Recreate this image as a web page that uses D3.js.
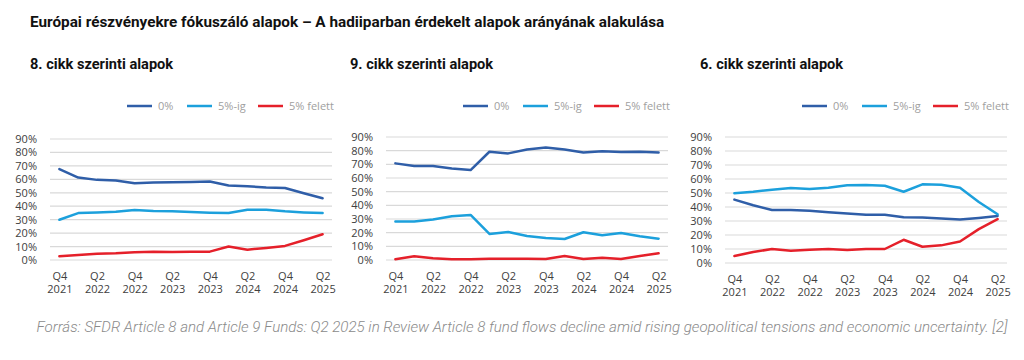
<!DOCTYPE html>
<html><head><meta charset="utf-8">
<script src="https://cdn.jsdelivr.net/npm/d3@7"></script>
<style>
body{margin:0;background:#fff;}
svg{display:block;}
</style></head>
<body>
<svg id="c" width="1024" height="360"></svg>
<script>
// ---- data ----
const quarters = ["Q4 2021","Q1 2022","Q2 2022","Q3 2022","Q4 2022","Q1 2023","Q2 2023","Q3 2023","Q4 2023","Q1 2024","Q2 2024","Q3 2024","Q4 2024","Q1 2025","Q2 2025"];
const tickQuarters = ["Q4 2021","Q2 2022","Q4 2022","Q2 2023","Q4 2023","Q2 2024","Q4 2024","Q2 2025"];
const yTicks = [0,0.1,0.2,0.3,0.4,0.5,0.6,0.7,0.8,0.9];
const seriesNames = ["0%","5%-ig","5% felett"];
const panelTitles = ["8. cikk szerinti alapok","9. cikk szerinti alapok","6. cikk szerinti alapok"];

const art8_0   = [67.6,61.3,59.6,59.1,57.1,57.6,57.9,58.1,58.4,55.4,54.9,53.9,53.6,49.6,45.9];
const art8_5ig = [29.9,34.9,35.4,35.9,37.2,36.4,36.2,35.7,35.2,34.9,37.4,37.4,36.2,35.4,34.9];
const art8_5f  = [2.7,3.7,4.7,5.0,5.7,6.2,6.0,6.2,6.2,10.0,7.7,9.0,10.5,14.7,19.2];

const art9_0   = [70.7,68.7,68.7,67.0,65.8,79.2,78.0,80.9,82.4,80.9,78.7,79.5,79.0,79.2,78.7];
const art9_5ig = [28.1,28.1,29.6,32.0,33.0,19.1,20.5,17.6,16.1,15.4,20.3,18.1,19.8,17.4,15.6];
const art9_5f  = [0.5,2.7,1.2,0.5,0.5,1.0,1.0,1.0,0.7,2.9,0.7,1.7,0.7,2.9,4.9];

const art6_0   = [45.3,41.2,37.9,37.9,37.4,36.3,35.3,34.4,34.4,32.7,32.5,31.8,31.0,32.2,33.6];
const art6_5ig = [49.8,50.9,52.4,53.6,52.8,53.8,55.5,55.7,55.2,50.9,56.2,55.9,53.8,43.6,34.8];
const art6_5f  = [5.0,7.8,10.0,8.8,9.5,10.0,9.2,10.0,10.0,16.6,11.6,12.6,15.4,24.2,31.3];

const panelData = [[art8_0,art8_5ig,art8_5f],[art9_0,art9_5ig,art9_5f],[art6_0,art6_5ig,art6_5f]];

// ---- layout / style ----
const colors = ["#2F5EA8","#1CA0DC","#E5202A"];
const layout = [
  {gx0:50, gx1:332, y0:260, y90:139, tx:30},
  {gx0:386,gx1:668, y0:260, y90:137, tx:350},
  {gx0:725,gx1:1007,y0:263, y90:137, tx:700}
];
const font = "'Open Sans', 'Noto Sans', sans-serif";
const svg = d3.select("#c");

svg.append("text").attr("x",30).attr("y",27)
  .attr("font-family","Roboto, sans-serif").attr("font-weight","bold")
  .attr("font-size",15.3).attr("fill","#111")
  .text("Európai részvényekre fókuszáló alapok – A hadiiparban érdekelt alapok arányának alakulása");

svg.append("text").attr("x",522).attr("y",332).attr("text-anchor","middle")
  .attr("font-family","Roboto, sans-serif").attr("font-weight",300).attr("font-style","italic")
  .attr("font-size",15.1).attr("fill","#8a8a8a")
  .text("Forrás: SFDR Article 8 and Article 9 Funds: Q2 2025 in Review Article 8 fund flows decline amid rising geopolitical tensions and economic uncertainty. [2]");

layout.forEach((L,pi)=>{
  const g = svg.append("g");
  g.append("text").attr("x",L.tx).attr("y",69)
    .attr("font-family","Roboto, sans-serif").attr("font-weight","bold")
    .attr("font-size",14.6).attr("fill","#111").text(panelTitles[pi]);

  const x = d3.scalePoint().domain(quarters).range([L.gx0,L.gx1]).padding(0.5);
  const y = d3.scaleLinear().domain([0,0.9]).range([L.y0,L.y90]);

  // grid
  g.append("g").selectAll("line").data(yTicks).join("line")
    .attr("x1",L.gx0).attr("x2",L.gx1)
    .attr("y1",d=>y(d)).attr("y2",d=>y(d))
    .attr("stroke","#d9d9d9").attr("stroke-width",1.2);

  // y axis
  const ya = g.append("g").attr("transform",`translate(${L.gx0-13},0)`)
    .call(d3.axisLeft(y).tickValues(yTicks).tickFormat(d3.format(".0%")).tickSize(0).tickPadding(0));
  ya.select(".domain").remove();
  ya.selectAll("text").attr("font-family",font).attr("font-size",11).attr("fill","#404040");

  // x axis
  const xa = g.append("g").attr("transform",`translate(0,${L.y0+12})`)
    .call(d3.axisBottom(x).tickValues(tickQuarters).tickSize(0).tickPadding(0));
  xa.select(".domain").remove();
  xa.selectAll("text").attr("font-family",font).attr("font-size",11).attr("fill","#404040")
    .each(function(d){
      const parts = d.split(" ");
      const t = d3.select(this).text(null).attr("dy",null).attr("y",0);
      t.append("tspan").attr("x",0).attr("dy","0.71em").text(parts[0]);
      t.append("tspan").attr("x",0).attr("dy","1.2em").text(parts[1]);
    });

  // lines
  const line = d3.line().x((d,i)=>x(quarters[i])).y(d=>y(d/100));
  panelData[pi].forEach((s,si)=>{
    g.append("path").datum(s).attr("d",line).attr("fill","none")
      .attr("stroke",colors[si]).attr("stroke-width",2.5)
      .attr("stroke-linejoin","round").attr("stroke-linecap","round");
  });

  // legend
  const offs = [77,137,208];
  seriesNames.forEach((n,si)=>{
    const lx = L.gx0 + offs[si];
    g.append("line").attr("x1",lx).attr("x2",lx+25).attr("y1",106).attr("y2",106)
      .attr("stroke",colors[si]).attr("stroke-width",2.5);
    g.append("text").attr("x",lx+31).attr("y",106).attr("dy","0.35em")
      .attr("font-family",font).attr("font-size",11).attr("fill","#a0a0a0").text(n);
  });
});
</script>
</body></html>
